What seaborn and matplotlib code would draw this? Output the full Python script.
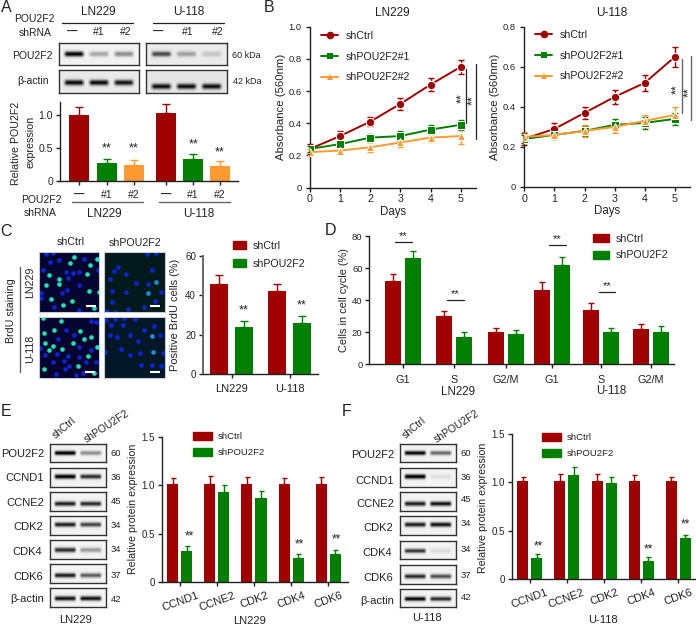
import numpy as np
import pandas as pd
import seaborn as sns
import matplotlib
matplotlib.use("Agg")
import matplotlib.pyplot as plt
from matplotlib.patches import Patch

W, H = 696, 625
RED, GREEN, ORANGE = "#a00000", "#008000", "#ff9a33"
INK = "#222222"

# panel A
a_labels = ["—", "#1", "#2", "—", "#1", "#2"]
a_values = [1.0, 0.27, 0.24, 1.03, 0.33, 0.23]
a_errors = [0.12, 0.07, 0.08, 0.14, 0.08, 0.07]
a_groups = ["ctrl", "one", "two", "ctrl", "one", "two"]

# panel B
days = [0, 1, 2, 3, 4, 5]
b_names = ["shCtrl", "shPOU2F2#1", "shPOU2F2#2"]
ln229_ctrl = [0.24, 0.32, 0.41, 0.52, 0.64, 0.75]
ln229_ctrl_err = [0.03, 0.03, 0.03, 0.035, 0.04, 0.045]
ln229_one = [0.24, 0.27, 0.31, 0.32, 0.36, 0.39]
ln229_one_err = [0.02, 0.02, 0.025, 0.03, 0.03, 0.03]
ln229_two = [0.22, 0.23, 0.25, 0.28, 0.31, 0.32]
ln229_two_err = [0.02, 0.02, 0.03, 0.03, 0.03, 0.05]
u118_ctrl = [0.24, 0.29, 0.37, 0.45, 0.52, 0.65]
u118_ctrl_err = [0.03, 0.03, 0.03, 0.035, 0.04, 0.05]
u118_one = [0.24, 0.26, 0.28, 0.31, 0.32, 0.34]
u118_one_err = [0.02, 0.02, 0.025, 0.03, 0.03, 0.03]
u118_two = [0.25, 0.26, 0.28, 0.30, 0.33, 0.36]
u118_two_err = [0.025, 0.02, 0.03, 0.03, 0.03, 0.04]

# panel C
c_cells = ["LN229", "U-118"]
c_ctrl = [46, 42]
c_ctrl_err = [4.5, 4]
c_kd = [24, 26]
c_kd_err = [3, 3.5]

# panel D
d_phases = ["G1", "S", "G2/M", "G1", "S", "G2/M"]
d_ctrl = [52, 30, 20, 46.5, 34, 22]
d_ctrl_err = [4, 3, 2.5, 4.5, 4, 3]
d_kd = [66, 17, 18.5, 62, 20, 20.3]
d_kd_err = [4.5, 3, 2.7, 5, 2.8, 3.2]

# panels E, F
proteins = ["CCND1", "CCNE2", "CDK2", "CDK4", "CDK6"]
e_ctrl = [1.01, 1.01, 1.01, 1.01, 1.01]
e_ctrl_err = [0.07, 0.09, 0.08, 0.07, 0.08]
e_kd = [0.32, 0.93, 0.87, 0.25, 0.29]
e_kd_err = [0.05, 0.07, 0.07, 0.04, 0.04]
f_ctrl = [1.01, 1.01, 1.01, 1.01, 1.01]
f_ctrl_err = [0.05, 0.08, 0.08, 0.07, 0.05]
f_kd = [0.22, 1.08, 0.99, 0.19, 0.42]
f_kd_err = [0.04, 0.08, 0.07, 0.04, 0.04]

# blot labels and band strengths
blot_names = ["POU2F2", "CCND1", "CCNE2", "CDK2", "CDK4", "CDK6", "β-actin"]
blot_kda = ["60", "36", "45", "34", "34", "37", "42"]
a_ln229_bands = [[0.95, 0.3, 0.4], [0.9, 0.9, 0.85]]
a_u118_bands = [[0.65, 0.3, 0.15], [0.85, 0.85, 0.85]]
e_bands = [[1, 0.4], [1, 0.8], [0.85, 0.8], [0.85, 0.7], [0.8, 0.35], [0.85, 0.6], [0.9, 0.9]]
f_bands = [[0.95, 0.55], [1, 0.08], [0.85, 0.9], [0.85, 0.9], [0.75, 0.1], [0.8, 0.65], [0.95, 0.8]]

# nuclei (crop pixels, 0-198)
p1_bright_x = [115, 103, 163, 183, 38, 154, 68, 70, 28, 160, 45, 108, 80, 175, 190]
p1_bright_y = [20, 40, 45, 28, 75, 72, 88, 103, 105, 122, 146, 152, 165, 175, 127]
p1_blue_x = [30, 50, 40, 70, 145, 130, 90, 15, 95, 128, 78, 92, 15, 130, 55, 188, 110, 20]
p1_blue_y = [12, 8, 35, 30, 28, 65, 65, 130, 85, 105, 130, 120, 145, 180, 172, 60, 70, 60]
p2_bright_x = [163, 138]
p2_bright_y = [95, 130]
p2_blue_x = [135, 162, 50, 37, 152, 75, 25, 103, 140, 33, 74, 178, 32, 160, 18, 40, 127, 80]
p2_blue_y = [12, 10, 50, 63, 60, 72, 88, 100, 102, 122, 127, 127, 157, 152, 182, 185, 172, 178]
p3_bright_x = [20, 75, 22, 53, 131, 146, 165, 25, 112, 50, 38, 78, 184, 23, 125, 175, 158]
p3_bright_y = [10, 18, 52, 43, 48, 72, 65, 82, 82, 92, 104, 100, 95, 160, 150, 170, 120]
p3_blue_x = [165, 180, 90, 115, 65, 10, 62, 25, 130, 165, 95, 85, 130, 50, 100, 88, 140, 60, 120, 180, 150]
p3_blue_y = [18, 22, 45, 60, 70, 97, 115, 118, 95, 102, 120, 135, 125, 140, 150, 158, 170, 175, 178, 140, 140]
p4_bright_x = [150, 153]
p4_bright_y = [63, 110]
p4_blue_x = [15, 40, 68, 100, 30, 65, 25, 47, 85, 127, 175, 110, 60, 85, 115, 10, 185, 118, 150, 178, 158]
p4_blue_y = [15, 12, 10, 12, 30, 30, 60, 66, 58, 45, 60, 78, 100, 118, 112, 110, 112, 147, 148, 150, 34]

sns.set_style("ticks")
plt.rcParams["font.family"] = ["Liberation Sans", "DejaVu Sans"]
plt.rcParams["text.color"] = INK
plt.rcParams["axes.labelcolor"] = INK
plt.rcParams["xtick.color"] = INK
plt.rcParams["ytick.color"] = INK
plt.rcParams["axes.edgecolor"] = INK

fig = plt.figure(figsize=(W / 100, H / 100), dpi=100)


def px_axes(left, top, right, bottom):
    return fig.add_axes([left / W, 1 - bottom / H, (right - left) / W, (bottom - top) / H])


def label(x, y, s, size=7.5, **kw):
    kw.setdefault("ha", "center")
    kw.setdefault("va", "center")
    fig.text(x / W, 1 - y / H, s, fontsize=size, **kw)


def rule(x0, x1, y0, y1, color=INK, lw=0.9):
    fig.add_artist(plt.Line2D([x0 / W, x1 / W], [1 - y0 / H, 1 - y1 / H], color=color, lw=lw))


def style_axis(ax, size=7, color=INK, lw=1.0, length=3):
    sns.despine(ax=ax)
    for side in ["left", "bottom"]:
        ax.spines[side].set_linewidth(lw)
        ax.spines[side].set_color(color)
    ax.tick_params(labelsize=size, width=lw, length=length, pad=2, color=color)
    ax.patch.set_alpha(0)


def bars(ax, pos, values, errors, groups, colors, width, cap):
    frame = pd.DataFrame({"pos": pos, "value": values, "group": groups})
    sns.barplot(data=frame, x="pos", y="value", hue="group", palette=colors, native_scale=True,
                dodge=False, width=width, legend=False, ax=ax, linewidth=0, saturation=1)
    for x, v, e, g in zip(pos, values, errors, groups):
        ax.errorbar(x, v, yerr=[[0], [e]], color=colors[g], lw=1.0, capsize=cap, capthick=1.0, zorder=1)
    ax.set_xlabel("")
    ax.set_ylabel("")


def pair_bars(ax, centers, gap, ctrl, ctrl_err, kd, kd_err, width, cap):
    pos = [c - gap / 2 for c in centers] + [c + gap / 2 for c in centers]
    values = list(ctrl) + list(kd)
    errors = list(ctrl_err) + list(kd_err)
    groups = ["shCtrl"] * len(ctrl) + ["shPOU2F2"] * len(kd)
    diffs = np.diff(sorted(pos)).min()
    bars(ax, pos, values, errors, groups, {"shCtrl": RED, "shPOU2F2": GREEN}, width / diffs, cap)


def bar_legend(ax, x, y, size, hlen, hheight, spacing):
    handles = [Patch(color=RED), Patch(color=GREEN)]
    ax.legend(handles, ["shCtrl", "shPOU2F2"], loc="upper left", bbox_to_anchor=(x / W, 1 - y / H),
              bbox_transform=fig.transFigure, frameon=False, fontsize=size, handlelength=hlen,
              handleheight=hheight, labelspacing=spacing, handletextpad=0.6, borderpad=0, borderaxespad=0)


def stars(ax, x, y, size=9, rotation=0):
    ax.text(x, y, "**", ha="center", va="center", fontsize=size, rotation=rotation, clip_on=False)


def blot(left, top, right, bottom, strengths, band_y=0.5, bg=0.95):
    ax = px_axes(left, top, right, bottom)
    n = len(strengths)
    centers = np.linspace(0.5 / n + 0.02, 1 - 0.5 / n - 0.02, n)
    half = 0.42 / n
    xx, yy = np.meshgrid(np.linspace(0, 1, 120), np.linspace(0, 1, 40))
    img = np.full(xx.shape, bg)
    for c, s in zip(centers, strengths):
        across = np.clip((half - np.abs(xx - c)) / 0.05, 0, 1)
        down = np.exp(-((yy - band_y) / 0.12) ** 2)
        img = img - s * across * down
    ax.imshow(np.clip(img, 0, 1), cmap="gray", vmin=0, vmax=1, aspect="auto", interpolation="bilinear")
    ax.set_xticks([])
    ax.set_yticks([])
    for spine in ax.spines.values():
        spine.set_linewidth(1.0)
        spine.set_color("#333333")


def micrograph(left, top, right, bottom, bg, blue_x, blue_y, bright_x, bright_y, bright, bar_x):
    ax = px_axes(left, top, right, bottom)
    ax.set_facecolor(bg)
    sns.scatterplot(x=blue_x, y=blue_y, color="#0a25d8", s=11, linewidth=0, ax=ax)
    sns.scatterplot(x=bright_x, y=bright_y, color=bright, s=11, linewidth=0, ax=ax)
    ax.set_xlim(8, 190)
    ax.set_ylim(186, 6)
    ax.plot(bar_x, [167, 167], color="white", lw=1.5, solid_capstyle="butt")
    ax.set_xticks([])
    ax.set_yticks([])
    for spine in ax.spines.values():
        spine.set_linewidth(0.8)
        spine.set_color("#c8c8d0")


# ---- A
label(98, 12, "LN229", 8.5)
label(189, 12, "U-118", 8.5)
rule(62, 133, 22.7, 22.7)
rule(153, 224, 22.7, 22.7)
label(34, 19, "POU2F2", 7.5)
label(35, 33, "shRNA", 7.5)
for x, s in zip([72, 99, 126, 158, 188, 218], a_labels):
    label(x, 32, s, 7.5, fontweight="bold" if s == "—" else "normal")
label(32, 56, "POU2F2", 7.5)
label(33, 81, "β-actin", 7.5)
label(246, 55, "60 kDa", 6.5)
label(247, 82, "42 kDa", 6.5)
blot(59, 43, 139, 65, a_ln229_bands[0], 0.5)
blot(146, 43, 227, 65, a_u118_bands[0], 0.5, bg=0.92)
blot(59, 70, 139, 93, a_ln229_bands[1], 0.55, bg=0.92)
blot(146, 70, 227, 93, a_u118_bands[1], 0.72, bg=0.9)

ax = px_axes(60, 102, 238, 181.3)
a_pos = [79, 107, 134, 166, 193, 220]
bars(ax, a_pos, a_values, a_errors, a_groups, {"ctrl": RED, "one": GREEN, "two": ORANGE}, 20 / 27, 3)
ax.set_xlim(60, 238)
ax.set_ylim(0, 1.2)
ax.set_yticks([0, 0.5, 1.0], ["0", "0.5", "1.0"])
ax.set_xticks(a_pos, a_labels)
style_axis(ax, 7.5)
ax.tick_params(axis="x", pad=3)
for tick in ax.get_xticklabels():
    if tick.get_text() == "—":
        tick.set_fontweight("bold")
for x, y in zip([107, 134, 194, 220], [0.5, 0.5, 0.56, 0.44]):
    stars(ax, x, y)
label(16, 143, "Relative POU2F2", 7.7, rotation=90)
label(30, 142, "expression", 7.7, rotation=90)
label(41, 200, "POU2F2", 7.5)
label(40, 213, "shRNA", 7.5)
rule(72, 143, 202, 202, "#666666", 1.0)
rule(159, 230, 202, 202, "#666666", 1.0)
label(104, 214, "LN229", 8.5)
label(199, 214, "U-118", 8.5)


# ---- B
def growth(ax, series, errors, title_x, ylim, yticks, legend_xy, legend_gap):
    frame = pd.DataFrame({
        "day": days * 3,
        "value": series[0] + series[1] + series[2],
        "group": [b_names[0]] * 6 + [b_names[1]] * 6 + [b_names[2]] * 6,
    })
    colors = dict(zip(b_names, [RED, GREEN, ORANGE]))
    for name, vals, errs in zip(b_names, series, errors):
        ax.errorbar(days, vals, yerr=errs, color=colors[name], lw=1.0, capsize=2, capthick=1.0,
                    fmt="none", clip_on=False, zorder=2)
    sns.lineplot(data=frame, x="day", y="value", hue="group", style="group", palette=colors,
                 markers=dict(zip(b_names, ["o", "s", "^"])), dashes=False, lw=1.4, errorbar=None,
                 ax=ax, legend=True, zorder=3)
    sizes = [5.5, 3.8, 3.8]
    for line, ms in zip(ax.lines[-3:], sizes):
        line.set_markersize(ms)
        line.set_markeredgewidth(0)
        line.set_clip_on(False)
    for h, ms in zip(ax.get_legend().legend_handles, sizes):
        h.set_markersize(ms)
        h.set_markeredgewidth(0)
    sns.move_legend(ax, "upper left", bbox_to_anchor=(legend_xy[0] / W, 1 - legend_xy[1] / H),
                    bbox_transform=fig.transFigure, frameon=False, title=None, fontsize=7.7,
                    handlelength=1.6, labelspacing=legend_gap, handletextpad=0.75, borderpad=0, borderaxespad=0)
    ax.set_xlim(0, 5.5)
    ax.set_ylim(*ylim)
    ax.set_xticks(days)
    ax.set_yticks(yticks, ["0" if t == 0 else f"{t:.1f}" for t in yticks])
    ax.set_xlabel("Days", fontsize=8.3, labelpad=1)
    ax.set_ylabel("Absorbance (560nm)", fontsize=8.2, labelpad=2)
    style_axis(ax, 6.8)
    ax.tick_params(axis="y", pad=3)
    ax.tick_params(axis="x", labelsize=7.7)
    label(title_x, 12.5, "LN229" if title_x < 500 else "U-118", 8.5)


ax = px_axes(310, 26.7, 475.7, 187.5)
growth(ax, [ln229_ctrl, ln229_one, ln229_two], [ln229_ctrl_err, ln229_one_err, ln229_two_err],
       392.7, (0, 1.0), [0, 0.2, 0.4, 0.6, 0.8, 1.0], (321, 31), 1.0)
ax.plot([5.17, 5.17], [0.40, 0.736], color=INK, lw=0.9, clip_on=False)
ax.plot([5.5, 5.5], [0.30, 0.767], color=INK, lw=0.9, clip_on=False)
stars(ax, 5.04, 0.555, 9, 90)
stars(ax, 5.43, 0.545, 9, 90)

ax = px_axes(524.3, 26.7, 690, 187)
growth(ax, [u118_ctrl, u118_one, u118_two], [u118_ctrl_err, u118_one_err, u118_two_err],
       612, (0, 0.8), [0, 0.2, 0.4, 0.6, 0.8], (535, 30), 1.0)
ax.plot([5.23, 5.23], [0.37, 0.64], color="#666666", lw=1.0, clip_on=False)
ax.plot([5.53, 5.53], [0.335, 0.655], color="#666666", lw=1.0, clip_on=False)
stars(ax, 5.09, 0.49, 9, 90)
stars(ax, 5.46, 0.475, 9, 90)

# ---- C
label(71, 242, "shCtrl", 7.7)
label(135, 243, "shPOU2F2", 7.7)
label(30, 282, "LN229", 7.7, rotation=90)
label(30, 349, "U-118", 7.7, rotation=90)
label(11, 311, "BrdU staining", 7.7, rotation=90)
rule(20, 20, 267, 372, "#555555", 0.9)
micrograph(39, 252, 99, 312, "#050530", p1_blue_x, p1_blue_y, p1_bright_x, p1_bright_y, "#18e6b4", [150, 180])
micrograph(104, 252, 165, 312, "#021a1c", p2_blue_x, p2_blue_y, p2_bright_x, p2_bright_y, "#1f8fe0", [145, 175])
micrograph(39, 317, 99, 378, "#04042e", p3_blue_x, p3_blue_y, p3_bright_x, p3_bright_y, "#18e6b4", [148, 178])
micrograph(104, 317, 165, 378, "#021828", p4_blue_x, p4_blue_y, p4_bright_x, p4_bright_y, "#1f8fe0", [145, 175])

ax = px_axes(203, 256, 318, 374)
pair_bars(ax, [231.5, 289.5], 25, c_ctrl, c_ctrl_err, c_kd, c_kd_err, 18, 2.8)
ax.set_xlim(203, 318)
ax.set_ylim(0, 60)
ax.set_yticks([0, 20, 40, 60])
ax.set_xticks([231.5, 289.5], c_cells)
style_axis(ax, 7)
ax.spines["left"].set_color("#666666")
ax.spines["left"].set_linewidth(1.4)
ax.tick_params(axis="x", labelsize=8, pad=4)
stars(ax, 244, 32.5)
stars(ax, 302, 35)
label(175, 315, "Positive BrdU cells (%)", 7.9, rotation=90)
bar_legend(ax, 233, 241, 7.7, 1.25, 0.75, 0.75)

# ---- D
ax = px_axes(369.5, 236, 674, 364)
d_centers = [403, 454, 506, 552, 601, 651]
pair_bars(ax, d_centers, 20, d_ctrl, d_ctrl_err, d_kd, d_kd_err, 16, 2.2)
ax.set_xlim(369.5, 674)
ax.set_ylim(0, 80)
ax.set_yticks([0, 20, 40, 60, 80])
ax.set_xticks(d_centers, d_phases)
style_axis(ax, 6.8)
ax.tick_params(axis="x", labelsize=7.8, pad=5)
for x0, x1, y in [(395, 412, 76.4), (447, 464, 40.2), (549, 566, 74.4), (599, 615, 45)]:
    ax.plot([x0, x1], [y, y], color=INK, lw=0.9, clip_on=False)
    stars(ax, (x0 + x1) / 2, y + 3.5, 8)
label(344, 300, "Cells in cell cycle (%)", 7.9, rotation=90)
label(458, 392, "LN229", 8.3)
label(611, 391, "U-118", 8.3)
bar_legend(ax, 593, 234, 7.7, 1.5, 0.75, 0.6)


# ---- E, F
def blot_column(dx, label_x, name_y, kda_y, bands, rows, cell, cell_x, cell_y):
    for (top, bottom), strength, by in zip(rows, bands, [0.5, 0.45, 0.62, 0.45, 0.55, 0.6, 0.55]):
        blot(50 + dx, top, 106 + dx, bottom, strength, by)
    for x, y, name in zip(label_x, name_y, blot_names):
        label(x, y, name, 8)
    for y, kda in zip(kda_y, blot_kda):
        label(116 + dx, y, kda, 6.8)
    label(cell_x, cell_y, cell, 8)
    label(50 + dx + 14, 428, "shCtrl", 7.5, rotation=40)
    label(50 + dx + 57, 426, "shPOU2F2", 7.5, rotation=33)


rows_e = [(444, 462), (468, 487), (492, 511), (516, 535), (540, 559), (564, 583), (588, 607)]
blot_column(0, [23, 25, 25, 28, 27, 28, 27], [454, 478, 503, 527, 552, 577, 599],
            [454, 478, 501, 525, 550, 575, 599], e_bands, rows_e, "LN229", 76, 620)
rows_f = [(444, 462), (468, 487), (492, 511), (516, 535), (541, 559), (565, 584), (589, 607)]
blot_column(350, [373, 375, 375, 378, 377, 378, 377], [455, 481, 504, 528, 553, 578, 601],
            [454, 477, 500, 524, 549, 575, 598], f_bands, rows_f, "U-118", 427, 618)


def protein_panel(box, centers, ctrl, ctrl_err, kd, kd_err, star_xy, ylabel_x, ylabel_y, cell, cell_x, cell_y, legend_xy):
    ax = px_axes(*box)
    pair_bars(ax, centers, 14, ctrl, ctrl_err, kd, kd_err, 11, 1.8)
    ax.set_xlim(box[0], box[2])
    ax.set_ylim(0, 1.5)
    ax.set_yticks([0, 0.5, 1.0, 1.5], ["0", "0.5", "1.0", "1.5"])
    ax.set_xticks(centers, proteins, rotation=20)
    style_axis(ax, 7)
    ax.tick_params(axis="x", labelsize=8, pad=3)
    for x, y in star_xy:
        stars(ax, x, y, 8.5)
    label(ylabel_x, ylabel_y, "Relative protein expression", 7.7, rotation=90)
    label(cell_x, cell_y, cell, 8)
    bar_legend(ax, legend_xy[0], legend_xy[1], 6.8, 2.0, 0.9, 0.7)


protein_panel((162, 437, 348, 582), [180, 217, 254, 291, 328], e_ctrl, e_ctrl_err, e_kd, e_kd_err,
              [(189, 0.47), (299, 0.39), (336, 0.44)], 133, 509, "LN229", 250, 621, (193, 432))
protein_panel((512, 434, 695, 579), [529.5, 566.5, 604, 641, 678], f_ctrl, f_ctrl_err, f_kd, f_kd_err,
              [(538, 0.34), (648, 0.31), (685, 0.56)], 483, 508, "U-118", 603, 620, (542, 433))

# panel letters
for x, y, letter in [(6, 7, "A"), (269, 7, "B"), (6, 232, "C"), (331, 231, "D"), (6, 411, "E"), (347, 411, "F")]:
    label(x, y, letter, 11.5)

fig.savefig("out.png", dpi=100)
